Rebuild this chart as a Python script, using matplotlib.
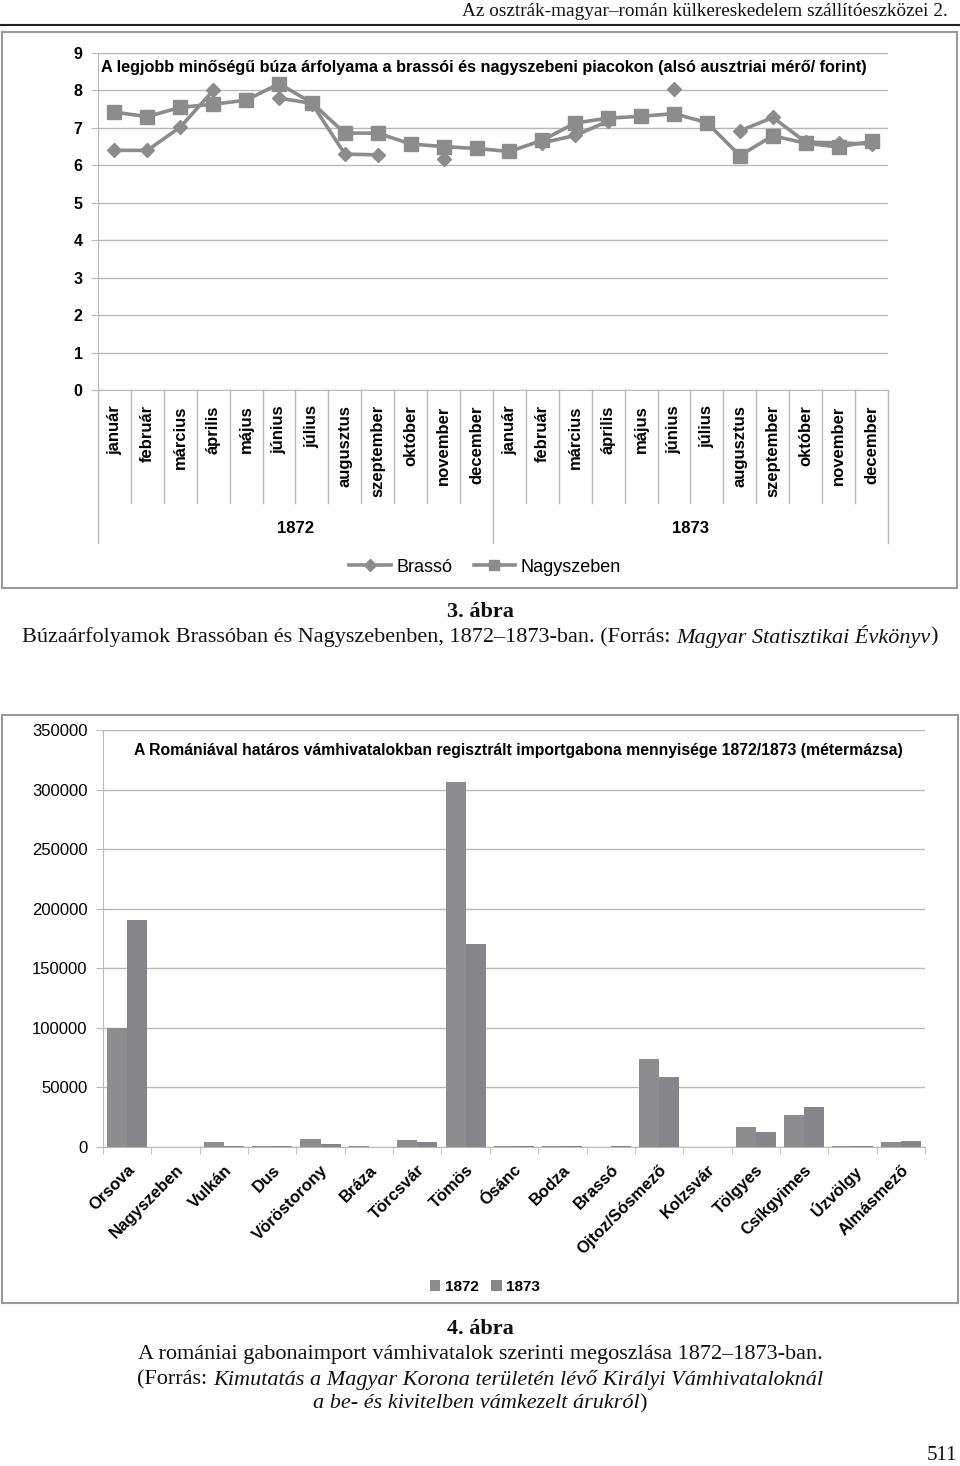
import matplotlib
matplotlib.use('Agg')
import matplotlib.pyplot as plt
import numpy as np
from matplotlib.patches import Rectangle
from matplotlib.lines import Line2D

nan = np.nan

# --- 3. abra: wheat prices (alsó ausztriai mérő / forint)
months = ['január', 'február', 'március', 'április', 'május', 'június', 'július',
          'augusztus', 'szeptember', 'október', 'november', 'december']
month_labels = months + months
years = ['1872', '1873']
brasso = [6.4, 6.4, 7.02, 8.0, nan, 7.8, 7.65, 6.3, 6.28, nan, 6.16, nan,
          nan, 6.6, 6.8, 7.18, nan, 8.04, nan, 6.92, 7.28, 6.62, 6.6, 6.57]
nagyszeben = [7.42, 7.3, 7.55, 7.63, 7.74, 8.18, 7.67, 6.86, 6.86, 6.57, 6.5, 6.45,
              6.37, 6.67, 7.13, 7.26, 7.31, 7.38, 7.14, 6.26, 6.79, 6.59, 6.49, 6.64]

# --- 4. abra: grain import by customs office (métermázsa)
stations = ['Orsova', 'Nagyszeben', 'Vulkán', 'Dus', 'Vöröstorony', 'Bráza', 'Törcsvár',
            'Tömös', 'Ósánc', 'Bodza', 'Brassó', 'Ojtoz/Sósmező', 'Kolzsvár', 'Tölgyes',
            'Csíkgyimes', 'Úzvölgy', 'Almásmező']
imp_1872 = [100000, 0, 4500, 800, 6700, 600, 5900, 306000, 800, 800, 0, 73800, 0,
            17000, 26800, 800, 4200]
imp_1873 = [190500, 0, 800, 800, 2300, 0, 4200, 170300, 800, 800, 800, 58800, 0,
            12600, 33300, 800, 5300]

W, H = 960, 1466
SANS = 'Liberation Sans'
SERIF = 'Liberation Serif'
GRAY = '#8c8c8c'
GRID = '#b8b8b8'
FRAME = '#9a9a9a'
CAP = 16

plt.rcParams['font.family'] = SANS
fig = plt.figure(figsize=(W / 100, H / 100), dpi=100)


def fx(x):
    return x / W


def fy(y):
    return 1 - y / H


def px_axes(x0, y0, x1, y1):
    return fig.add_axes([fx(x0), fy(y1), (x1 - x0) / W, (y1 - y0) / H])


def frame(x0, y0, x1, y1):
    fig.add_artist(Rectangle((fx(x0), fy(y1)), (x1 - x0) / W, (y1 - y0) / H,
                             transform=fig.transFigure, fill=False, ec=FRAME, lw=1.5))


def mixed(y, parts, size, weight='normal'):
    # centre a line made of normal / italic pieces
    r = fig.canvas.get_renderer()

    def width(s, st):
        t = fig.text(0, 0, s, fontsize=size, family=SERIF, style=st, fontweight=weight)
        w = t.get_window_extent(r).width
        t.remove()
        return w

    sp = width('x x', 'normal') - width('xx', 'normal')
    ws = [sp if s == ' ' else width(s, st) for s, st in parts]
    x = (W - sum(ws)) / 2
    for (s, st), w in zip(parts, ws):
        if s != ' ':
            fig.text(fx(x), fy(y), s, fontsize=size, family=SERIF, style=st,
                     fontweight=weight, va='center', ha='left', color='#111111')
        x += w


# page header
fig.text(fx(948), fy(12), 'Az osztrák-magyar–román külkereskedelem szállítóeszközei 2.',
         ha='right', va='center', fontsize=13.9, family=SERIF, color='#111111')
fig.add_artist(Line2D([0, 1], [fy(25), fy(25)], transform=fig.transFigure, color='#222222', lw=1.5))

# ---------------- top chart
frame(2, 32, 957, 588)
ax1 = px_axes(98, 53, 888, 390)
x = np.arange(len(month_labels))
ax1.plot(x, brasso, color=GRAY, lw=2.6, marker='D', ms=7, zorder=3)
ax1.plot(x, nagyszeben, color=GRAY, lw=2.6, marker='s', ms=10, zorder=3)
ax1.set_xlim(-0.5, 23.5)
ax1.set_ylim(0, 9)
ax1.set_yticks(range(10))
ax1.set_xticks([])
ax1.yaxis.grid(True, color=GRID, lw=1)
ax1.set_axisbelow(True)
for s in ['top', 'right']:
    ax1.spines[s].set_visible(False)
for s in ['left', 'bottom']:
    ax1.spines[s].set_color(GRID)
ax1.tick_params(axis='y', length=5, color=GRID, pad=6, labelsize=11.5)
for lab in ax1.get_yticklabels():
    lab.set_fontweight('bold')

tr = ax1.get_xaxis_transform()
for i, m in enumerate(month_labels):
    ax1.text(i, -0.045, m, transform=tr, rotation=90, ha='center', va='top',
             fontsize=12, fontweight='bold')
for b in np.arange(-0.5, 24, 1):
    yb = -0.455 if b in (-0.5, 11.5, 23.5) else -0.335
    ax1.plot([b, b], [0, yb], transform=tr, color=GRID, lw=1, clip_on=False)
ax1.text(5.5, -0.41, years[0], transform=tr, ha='center', va='center', fontsize=12, fontweight='bold')
ax1.text(17.5, -0.41, years[1], transform=tr, ha='center', va='center', fontsize=12, fontweight='bold')
ax1.text(0.489, 0.958, 'A legjobb minőségű búza árfolyama a brassói és nagyszebeni piacokon '
         '(alsó ausztriai mérő/ forint)', transform=ax1.transAxes, ha='center', va='center',
         fontsize=11.7, fontweight='bold')
h1 = [Line2D([], [], color=GRAY, lw=2.6, marker='D', ms=6),
      Line2D([], [], color=GRAY, lw=2.6, marker='s', ms=7)]
ax1.legend(h1, ['Brassó', 'Nagyszeben'], loc='center', bbox_to_anchor=(fx(485), fy(567)),
           bbox_transform=fig.transFigure, ncol=2, frameon=False, fontsize=13,
           handlelength=2.3, handletextpad=0.3, columnspacing=1.2)

mixed(612, [('3. ábra', 'normal')], CAP, weight='bold')
mixed(637, [('Búzaárfolyamok Brassóban és Nagyszebenben, 1872–1873-ban. (Forrás:', 'normal'),
            (' ', 'normal'), ('Magyar Statisztikai Évkönyv', 'italic'), (')', 'normal')], CAP)

# ---------------- bottom chart
frame(2, 715, 958, 1303)
ax2 = px_axes(103, 730, 925, 1147)
pos = np.arange(len(stations))
ax2.bar(pos - 0.208, imp_1872, width=0.416, color='#8d8d90', label=years[0], zorder=3)
ax2.bar(pos + 0.208, imp_1873, width=0.416, color='#86868a', label=years[1], zorder=3)
ax2.set_xlim(-0.5, len(stations) - 0.5)
ax2.set_ylim(0, 350000)
ax2.set_yticks(np.arange(0, 350001, 50000))
ax2.yaxis.grid(True, color=GRID, lw=1)
ax2.set_axisbelow(True)
for s in ['top', 'right']:
    ax2.spines[s].set_visible(False)
for s in ['left', 'bottom']:
    ax2.spines[s].set_color(GRID)
ax2.tick_params(axis='y', length=5, color=GRID, pad=6, labelsize=12)
ax2.set_xticks(pos)
ax2.set_xticklabels(stations, rotation=45, ha='right', rotation_mode='anchor',
                    fontsize=12, fontweight='bold')
ax2.tick_params(axis='x', which='major', length=0, pad=11)
ax2.set_xticks(np.arange(-0.5, len(stations), 1), minor=True)
ax2.tick_params(axis='x', which='minor', length=5, color=GRID)
ax2.text(0.505, 0.95, 'A Romániával határos vámhivatalokban regisztrált importgabona mennyisége '
         '1872/1873 (métermázsa)', transform=ax2.transAxes, ha='center', va='center',
         fontsize=11.3, fontweight='bold')
ax2.legend(loc='center', bbox_to_anchor=(fx(485), fy(1287)), bbox_transform=fig.transFigure,
           ncol=2, frameon=False, prop={'family': SANS, 'weight': 'bold', 'size': 11},
           handlelength=0.7, handleheight=0.7, handletextpad=0.3, columnspacing=0.8)

mixed(1329, [('4. ábra', 'normal')], CAP, weight='bold')
mixed(1355, [('A romániai gabonaimport vámhivatalok szerinti megoszlása 1872–1873-ban.', 'normal')], CAP)
mixed(1380, [('(Forrás:', 'normal'), (' ', 'normal'),
             ('Kimutatás a Magyar Korona területén lévő Királyi Vámhivataloknál', 'italic')], CAP)
mixed(1404, [('a be- és kivitelben vámkezelt árukról', 'italic'), (')', 'normal')], CAP)

fig.text(fx(957), fy(1455), '511', ha='right', va='center', fontsize=15, family=SERIF, color='#111111')

fig.savefig('out.png', dpi=100)
